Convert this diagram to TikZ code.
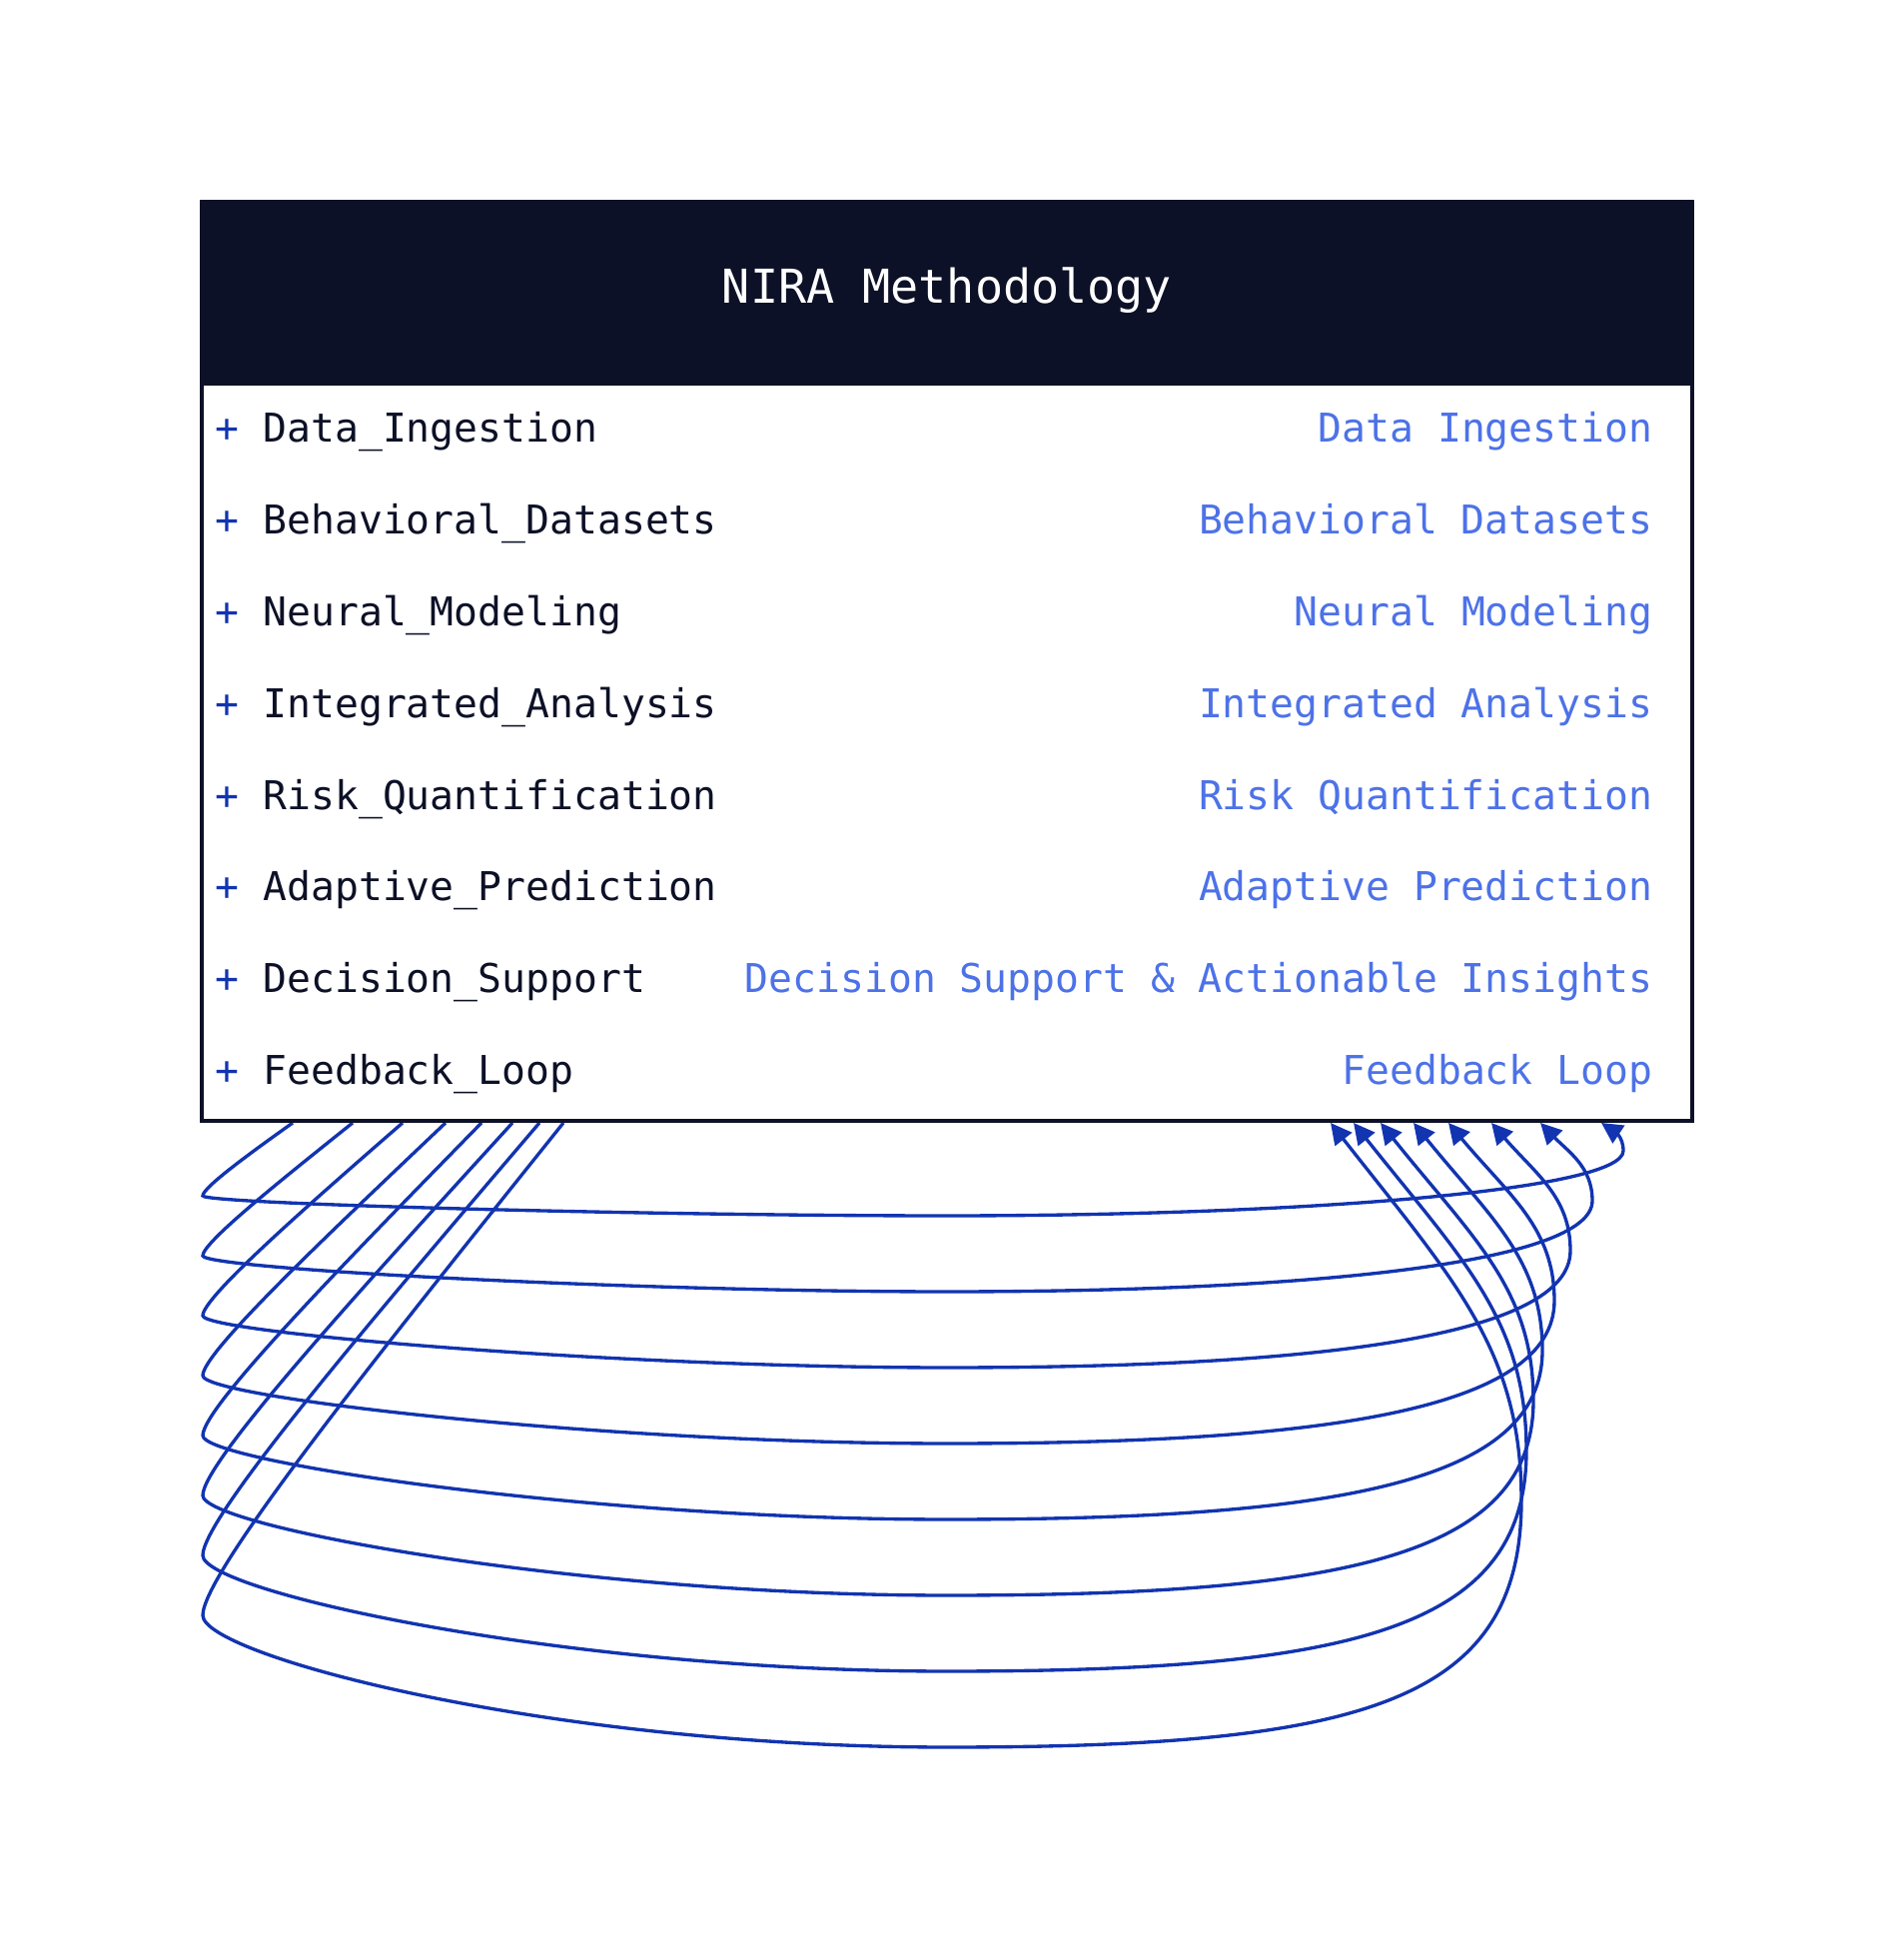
\documentclass[tikz,border=0pt]{standalone}
\usepackage{fontspec}
\setmonofont{DejaVu Sans Mono}
\usetikzlibrary{arrows.meta}
\definecolor{navy}{HTML}{0D1127}
\definecolor{linkblue}{HTML}{1234B0}
\definecolor{typeblue}{HTML}{4D72E8}
\tikzset{
	title/.style={anchor=base, inner sep=0pt, text=white, font=\ttfamily\fontsize{13.3}{16}\selectfont},
	field/.style={anchor=base west, inner sep=0pt, text=navy, font=\ttfamily\fontsize{11.3}{13}\selectfont},
	typelabel/.style={anchor=base east, inner sep=0pt, text=typeblue, font=\ttfamily\fontsize{11.3}{13}\selectfont},
	link/.style={draw=linkblue, line width=0.95pt, -{Triangle[length=0.21cm,width=0.21cm]}}
}
\def\fieldrow(#1:#2)#3#4{\node[field] (field#1) at (2.15,#2) {\textcolor{linkblue}{+} #3};
	\node[typelabel] (type#1) at (16.55,#2) {#4};}

\begin{document}
\begin{tikzpicture}
			%%%%% START %%%%%
			
			\useasboundingbox (0,0) rectangle (18.96,19.62);
			
			\coordinate (s1) at (2.93,8.38); \coordinate (e1) at (16.03,8.38);
			\coordinate (s2) at (3.53,8.38); \coordinate (e2) at (15.42,8.38);
			\coordinate (s3) at (4.03,8.38); \coordinate (e3) at (14.93,8.38);
			\coordinate (s4) at (4.46,8.38); \coordinate (e4) at (14.50,8.38);
			\coordinate (s5) at (4.82,8.38); \coordinate (e5) at (14.15,8.38);
			\coordinate (s6) at (5.13,8.38); \coordinate (e6) at (13.82,8.38);
			\coordinate (s7) at (5.40,8.38); \coordinate (e7) at (13.55,8.38);
			\coordinate (s8) at (5.64,8.38); \coordinate (e8) at (13.32,8.38);
			
			\draw[link] (s1) .. controls (2.48,8.06) and (2.03,7.73) .. (2.03,7.65) .. controls (2.03,7.57) and (6.48,7.45) .. (9.48,7.45) .. controls (12.98,7.45) and (16.25,7.70) .. (16.25,8.10) .. controls (16.25,8.25) and (16.15,8.30) .. (e1);
			\draw[link] (s2) .. controls (2.78,7.78) and (2.03,7.18) .. (2.03,7.05) .. controls (2.03,6.92) and (6.34,6.69) .. (9.48,6.69) .. controls (13.08,6.69) and (15.94,6.97) .. (15.94,7.60) .. controls (15.94,7.94) and (15.70,8.09) .. (e2);
			\draw[link] (s3) .. controls (3.03,7.51) and (2.03,6.63) .. (2.03,6.45) .. controls (2.03,6.28) and (6.20,5.93) .. (9.48,5.93) .. controls (13.18,5.93) and (15.72,6.24) .. (15.72,7.10) .. controls (15.72,7.64) and (15.37,7.87) .. (e3);
			\draw[link] (s4) .. controls (3.25,7.23) and (2.03,6.08) .. (2.03,5.85) .. controls (2.03,5.63) and (6.06,5.17) .. (9.48,5.17) .. controls (13.28,5.17) and (15.56,5.51) .. (15.56,6.60) .. controls (15.56,7.33) and (15.10,7.66) .. (e4);
			\draw[link] (s5) .. controls (3.43,6.96) and (2.03,5.53) .. (2.03,5.25) .. controls (2.03,4.99) and (5.92,4.41) .. (9.48,4.41) .. controls (13.38,4.41) and (15.44,4.78) .. (15.44,6.10) .. controls (15.44,7.02) and (14.91,7.44) .. (e5);
			\draw[link] (s6) .. controls (3.58,6.68) and (2.03,4.98) .. (2.03,4.65) .. controls (2.03,4.34) and (5.78,3.65) .. (9.48,3.65) .. controls (13.48,3.65) and (15.35,4.05) .. (15.35,5.60) .. controls (15.35,6.72) and (14.74,7.23) .. (e6);
			\draw[link] (s7) .. controls (3.72,6.41) and (2.03,4.43) .. (2.03,4.05) .. controls (2.03,3.69) and (5.64,2.89) .. (9.48,2.89) .. controls (13.58,2.89) and (15.28,3.32) .. (15.28,5.10) .. controls (15.28,6.41) and (14.63,7.02) .. (e7);
			\draw[link] (s8) .. controls (3.84,6.13) and (2.03,3.88) .. (2.03,3.45) .. controls (2.03,3.05) and (5.50,2.13) .. (9.48,2.13) .. controls (13.68,2.13) and (15.23,2.59) .. (15.23,4.60) .. controls (15.23,6.10) and (14.56,6.80) .. (e8);
			
			\draw[navy, line width=0.04cm, fill=white] (2.02,8.40) rectangle (16.94,17.60);
			\fill[navy] (2.00,15.76) rectangle (16.96,17.62);
			\node[title] (nira) at (9.48,16.58) {NIRA Methodology};
			
			\fieldrow(1:15.19){Data\_Ingestion}{Data Ingestion}
			\fieldrow(2:14.27){Behavioral\_Datasets}{Behavioral Datasets}
			\fieldrow(3:13.35){Neural\_Modeling}{Neural Modeling}
			\fieldrow(4:12.43){Integrated\_Analysis}{Integrated Analysis}
			\fieldrow(5:11.51){Risk\_Quantification}{Risk Quantification}
			\fieldrow(6:10.60){Adaptive\_Prediction}{Adaptive Prediction}
			\fieldrow(7:9.68){Decision\_Support}{Decision Support \& Actionable Insights}
			\fieldrow(8:8.76){Feedback\_Loop}{Feedback Loop}
			
			%%%%% END %%%%%
\end{tikzpicture}
\end{document}
